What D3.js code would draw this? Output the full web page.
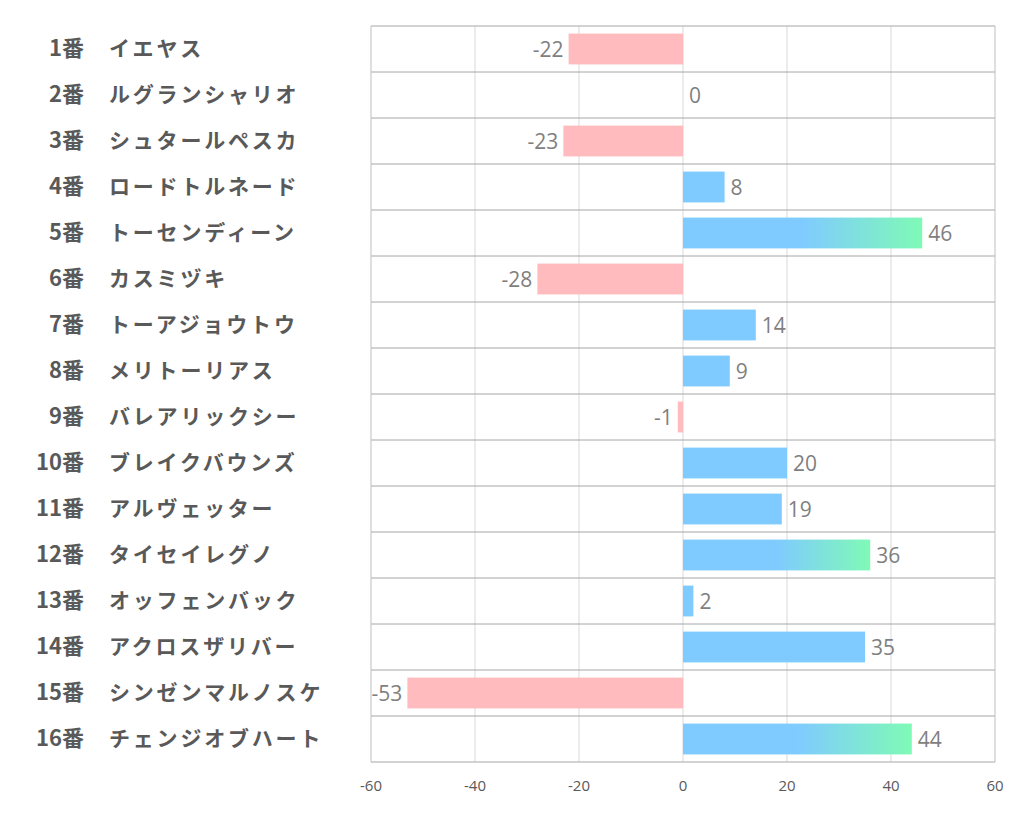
<!DOCTYPE html>
<html><head><meta charset="utf-8">
<script src="https://cdn.jsdelivr.net/npm/d3@7"></script>
<style>body{margin:0;background:#fff}</style>
</head><body>
<svg id="c" width="1022" height="834"></svg>
<script>
const numbers = ["1番","2番","3番","4番","5番","6番","7番","8番","9番","10番","11番","12番","13番","14番","15番","16番"];
const names = ["イエヤス","ルグランシャリオ","シュタールペスカ","ロードトルネード","トーセンディーン","カスミヅキ","トーアジョウトウ","メリトーリアス","バレアリックシー","ブレイクバウンズ","アルヴェッター","タイセイレグノ","オッフェンバック","アクロスザリバー","シンゼンマルノスケ","チェンジオブハート"];
const values = [-22,0,-23,8,46,-28,14,9,-1,20,19,36,2,35,-53,44];
const ticks = [-60,-40,-20,0,20,40,60];

const svg = d3.select("#c");
const L=371,R=995,T=26,B=762;
const x = d3.scaleLinear().domain([-60,60]).range([L,R]);
const y = d3.scaleBand().domain(d3.range(values.length)).range([T,B]).paddingInner(0.33).paddingOuter(0.165);
const rowH = (B-T)/values.length;

const defs = svg.append("defs");
const g = defs.append("linearGradient").attr("id","grad").attr("x1","0").attr("x2","1").attr("y1","0").attr("y2","0");
g.append("stop").attr("offset","0.5").attr("stop-color","#7fcbff");
g.append("stop").attr("offset","1").attr("stop-color","#7ffab6");

svg.append("g").selectAll("line").data(ticks.filter(t=>t>-60&&t<60)).join("line")
  .attr("x1",d=>x(d)).attr("x2",d=>x(d)).attr("y1",T).attr("y2",B)
  .attr("stroke","#d9d9d9").attr("stroke-width",1);
svg.append("g").selectAll("line").data(d3.range(values.length+1)).join("line")
  .attr("x1",L).attr("x2",R).attr("y1",i=>T+i*rowH).attr("y2",i=>T+i*rowH)
  .attr("stroke","#a6a6a6").attr("stroke-width",1);
svg.append("line").attr("x1",L).attr("x2",L).attr("y1",T).attr("y2",B).attr("stroke","#bfbfbf");
svg.append("line").attr("x1",R).attr("x2",R).attr("y1",T).attr("y2",B).attr("stroke","#bfbfbf");

svg.append("g").selectAll("rect").data(values).join("rect")
  .attr("x",d=>x(Math.min(0,d))).attr("width",d=>Math.abs(x(d)-x(0)))
  .attr("y",(d,i)=>y(i)).attr("height",y.bandwidth())
  .attr("fill",d=>d<0?"#ffbbbd":(d>35?"url(#grad)":"#7fcbff"));

svg.append("g").selectAll("text").data(values).join("text")
  .attr("x",d=>d<0?x(d)-5:x(d)+6)
  .attr("y",(d,i)=>y(i)+y.bandwidth()/2+8)
  .attr("text-anchor",d=>d<0?"end":"start")
  .attr("font-family","'Open Sans','Noto Sans',sans-serif").attr("font-size",21)
  .attr("fill","#7f7f7f").text(d=>d);

const lab = svg.append("g").attr("font-family","'Noto Sans CJK JP',sans-serif").attr("font-weight","bold").attr("fill","#595959");
lab.selectAll("text.n").data(numbers).join("text").attr("class","n")
  .attr("font-size",22)
  .attr("x",84).attr("y",(d,i)=>T+i*rowH+rowH/2+7).attr("text-anchor","end").text(d=>d);
lab.selectAll("text.m").data(names).join("text").attr("class","m")
  .attr("font-size",21).attr("letter-spacing",2.8)
  .attr("x",109).attr("y",(d,i)=>T+i*rowH+rowH/2+7).text(d=>d);

svg.append("g").selectAll("text").data(ticks).join("text")
  .attr("x",d=>x(d)).attr("y",791).attr("text-anchor","middle")
  .attr("font-family","'Open Sans','Noto Sans',sans-serif").attr("font-size",15)
  .attr("fill","#595959").text(d=>d);
</script>
</body></html>
